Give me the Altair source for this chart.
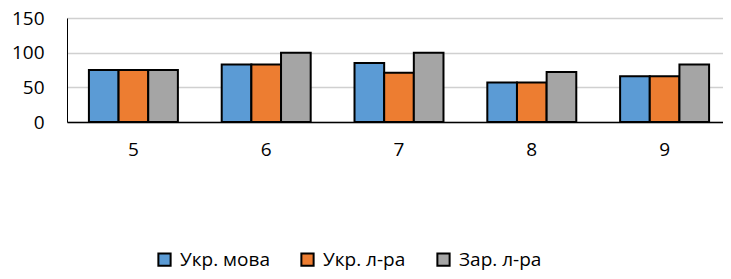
import altair as alt
import pandas as pd

categories = ["5", "6", "7", "8", "9"]
series = ["Укр. мова", "Укр. л-ра", "Зар. л-ра"]
ukr_mova = [75, 83, 85, 57, 66]
ukr_lra = [75, 83, 71, 57, 66]
zar_lra = [75, 100, 100, 72, 83]
colors = ["#5B9BD5", "#ED7D31", "#A5A5A5"]

rows = []
for s, vals in zip(series, [ukr_mova, ukr_lra, zar_lra]):
    for c, v in zip(categories, vals):
        rows.append({"cat": c, "series": s, "value": v})
df = pd.DataFrame(rows)

font = "Open Sans"

chart = alt.Chart(df).mark_bar(stroke="black", strokeWidth=2).encode(
    x=alt.X("cat:N", sort=categories, title=None,
            scale=alt.Scale(paddingInner=0.33, paddingOuter=0.165, range=[0, 664]),
            axis=alt.Axis(labelAngle=0, ticks=False, domainColor="black", domainWidth=1.5,
                          labelFontSize=19, labelPadding=18, labelColor="#000000", labelFont=font)),
    xOffset=alt.XOffset("series:N", sort=series, scale=alt.Scale(paddingInner=0, paddingOuter=0)),
    y=alt.Y("value:Q", title=None,
            scale=alt.Scale(domain=[0, 150], nice=False),
            axis=alt.Axis(values=[0, 50, 100, 150], ticks=False, domainColor="#000000",
                          gridColor="#d0d0d0", gridWidth=1.5, labelFontSize=19, labelPadding=23,
                          labelColor="#000000", labelFont=font)),
    color=alt.Color("series:N", sort=series, scale=alt.Scale(domain=series, range=colors),
                    legend=alt.Legend(title=None, orient="none", direction="horizontal",
                                      legendX=88, legendY=232,
                                      symbolType="square", symbolSize=150, symbolStrokeColor="black",
                                      symbolStrokeWidth=2, symbolOpacity=1,
                                      labelFontSize=19, labelFont=font, labelColor="#000000",
                                      columnPadding=27, labelOffset=6)),
).properties(
    width=656, height=104,
    autosize=alt.AutoSizeParams(type="none"),
    padding={"left": 59, "top": 10, "right": 0, "bottom": 149},
).configure_view(stroke=None).configure(background="white")

chart.save("out.html", embed_options={"renderer": "svg", "actions": False})
